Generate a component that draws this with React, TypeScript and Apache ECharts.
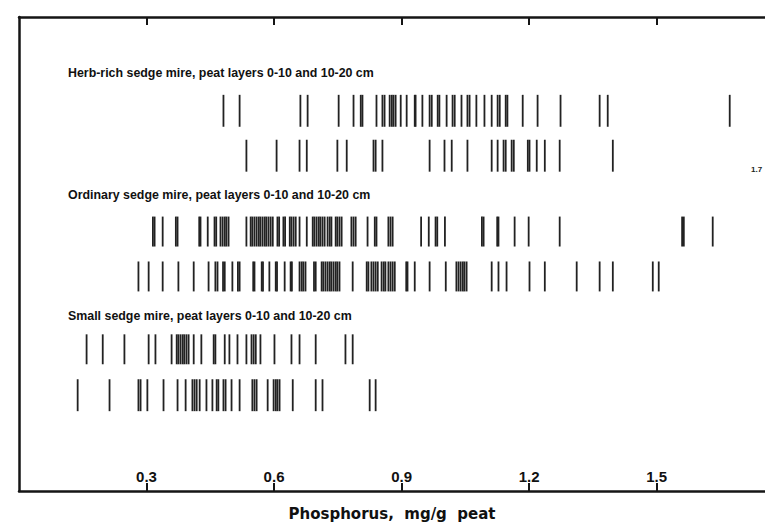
import React, { useEffect, useRef } from "react";
import * as echarts from "echarts";

// Phosphorus content (mg/g peat) of individual samples
const herbRich0_10 = [0.481, 0.519, 0.662, 0.679, 0.752, 0.787, 0.804, 0.808, 0.841, 0.855, 0.860, 0.872, 0.877, 0.881, 0.886, 0.898, 0.912, 0.931, 0.933, 0.949, 0.966, 0.971, 0.985, 0.989, 1.006, 1.020, 1.025, 1.041, 1.055, 1.060, 1.076, 1.095, 1.112, 1.126, 1.131, 1.145, 1.149, 1.185, 1.220, 1.274, 1.366, 1.385, 1.672];
const herbRich10_20 = [0.535, 0.606, 0.660, 0.677, 0.749, 0.771, 0.834, 0.839, 0.855, 0.966, 1.001, 1.018, 1.055, 1.112, 1.126, 1.140, 1.145, 1.159, 1.164, 1.197, 1.201, 1.218, 1.237, 1.272, 1.397];
const ordinary0_10 = [0.315, 0.319, 0.338, 0.369, 0.373, 0.424, 0.427, 0.444, 0.460, 0.464, 0.474, 0.479, 0.484, 0.488, 0.493, 0.535, 0.545, 0.549, 0.554, 0.559, 0.564, 0.568, 0.573, 0.578, 0.582, 0.587, 0.592, 0.597, 0.608, 0.612, 0.622, 0.626, 0.637, 0.641, 0.646, 0.651, 0.660, 0.677, 0.691, 0.695, 0.700, 0.705, 0.709, 0.714, 0.719, 0.726, 0.731, 0.735, 0.745, 0.749, 0.754, 0.759, 0.782, 0.787, 0.792, 0.820, 0.837, 0.841, 0.869, 0.874, 0.879, 0.946, 0.964, 0.980, 0.984, 1.002, 1.089, 1.093, 1.125, 1.128, 1.166, 1.199, 1.272, 1.560, 1.564, 1.632];
const ordinary10_20 = [0.281, 0.305, 0.338, 0.375, 0.411, 0.446, 0.462, 0.467, 0.480, 0.484, 0.502, 0.515, 0.519, 0.551, 0.554, 0.571, 0.574, 0.589, 0.604, 0.607, 0.625, 0.639, 0.642, 0.660, 0.665, 0.669, 0.674, 0.694, 0.698, 0.712, 0.716, 0.721, 0.726, 0.731, 0.735, 0.740, 0.745, 0.749, 0.754, 0.785, 0.818, 0.822, 0.829, 0.834, 0.839, 0.844, 0.853, 0.858, 0.862, 0.869, 0.874, 0.879, 0.884, 0.911, 0.914, 0.931, 0.966, 1.004, 1.029, 1.034, 1.039, 1.044, 1.048, 1.053, 1.112, 1.128, 1.147, 1.201, 1.237, 1.312, 1.366, 1.397, 1.491, 1.505];
const small0_10 = [0.159, 0.197, 0.248, 0.305, 0.321, 0.359, 0.371, 0.375, 0.380, 0.385, 0.389, 0.394, 0.399, 0.411, 0.429, 0.458, 0.462, 0.484, 0.495, 0.514, 0.535, 0.547, 0.552, 0.557, 0.568, 0.601, 0.641, 0.660, 0.698, 0.768, 0.785];
const small10_20 = [0.138, 0.213, 0.281, 0.286, 0.302, 0.340, 0.373, 0.392, 0.408, 0.413, 0.418, 0.425, 0.441, 0.455, 0.465, 0.469, 0.481, 0.486, 0.500, 0.519, 0.549, 0.554, 0.559, 0.585, 0.599, 0.604, 0.608, 0.613, 0.644, 0.698, 0.714, 0.825, 0.839];

const rows = [herbRich0_10, herbRich10_20, ordinary0_10, ordinary10_20, small0_10, small10_20];
const groupTitles = [
  "Herb-rich sedge mire, peat layers 0-10 and 10-20 cm",
  "Ordinary sedge mire, peat layers 0-10 and 10-20 cm",
  "Small sedge mire, peat layers 0-10 and 10-20 cm",
];
const tickLabels = ["0.3", "0.6", "0.9", "1.2", "1.5"];
const axisTitle = "Phosphorus,  mg/g  peat";

// layout (vertical bands in y-axis units, 1 unit = 1 px from grid top)
const rowBands = [
  [78, 110],
  [123, 155],
  [200, 230],
  [245, 275],
  [318, 348],
  [363, 395],
];
const titleTops = [67, 189, 310];

export default function App() {
  const ref = useRef<HTMLDivElement>(null);
  useEffect(() => {
    document.body.style.margin = "0";
    const chart = echarts.init(ref.current!, null, { renderer: "svg" });
    const data: number[][] = [];
    rows.forEach((vals, r) => vals.forEach((v) => data.push([v, r])));
    const tickValues = tickLabels.map(Number);
    const labelFont = "'Liberation Sans Narrow', 'Liberation Sans', Arial, sans-serif";
    const xMax = 1.755;
    const frame = "#151515";
    chart.setOption({
      animation: false,
      backgroundColor: "#ffffff",
      grid: { left: 19, right: 0, top: 17, bottom: 34 },
      xAxis: [
        {
          type: "value",
          position: "bottom",
          min: 0,
          max: xMax,
          interval: 0.3,
          axisLine: { show: true, onZero: false, lineStyle: { color: frame, width: 2.5 } },
          axisTick: { show: true, inside: true, length: 8, customValues: tickValues, lineStyle: { color: frame, width: 2 } },
          axisLabel: {
            inside: true,
            margin: 7,
            color: "#111",
            fontSize: 15,
            fontWeight: "bold",
            fontFamily: labelFont,
            customValues: tickValues,
            formatter: (v: number) => {
              const s = v.toFixed(1);
              return tickLabels.includes(s) ? s : "";
            },
          },
          splitLine: { show: false },
          name: axisTitle,
          nameLocation: "middle",
          nameGap: 15,
          nameTextStyle: {
            color: "#111",
            fontSize: 15,
            fontWeight: "bold",
            fontFamily: "'DejaVu Sans', Arial, sans-serif",
          },
        },
        {
          type: "value",
          position: "top",
          min: 0,
          max: xMax,
          interval: 0.3,
          axisLine: { show: true, onZero: false, lineStyle: { color: frame, width: 2.5 } },
          axisTick: { show: true, inside: true, length: 8, customValues: tickValues, lineStyle: { color: frame, width: 2 } },
          axisLabel: { show: false },
          splitLine: { show: false },
        },
      ],
      yAxis: {
        type: "value",
        inverse: true,
        min: 0,
        max: 475,
        axisLine: { show: true, onZero: false, lineStyle: { color: frame, width: 2.5 } },
        axisTick: { show: false },
        axisLabel: { show: false },
        splitLine: { show: false },
      },
      graphic: [
        ...groupTitles.map((t, i) => ({
          type: "text",
          left: 68,
          top: titleTops[i],
          style: {
            text: t,
            fill: "#111",
            font: "bold 12.4px 'Liberation Sans', Arial, sans-serif",
          },
        })),
        {
          type: "text",
          left: 751,
          top: 165,
          style: { text: "1.7", fill: "#222", font: "bold 8px 'Liberation Sans', Arial, sans-serif" },
        },
      ],
      series: [
        {
          type: "custom",
          xAxisIndex: 0,
          yAxisIndex: 0,
          data,
          renderItem: (params: any, api: any) => {
            const x = api.coord([api.value(0), 0])[0];
            const band = rowBands[api.value(1)];
            const y0 = api.coord([0, band[0]])[1];
            const y1 = api.coord([0, band[1]])[1];
            return {
              type: "rect",
              shape: { x: x - 0.9, y: y0, width: 1.8, height: y1 - y0 },
              style: { fill: "#222" },
            };
          },
        },
      ],
    });
    return () => chart.dispose();
  }, []);
  return <div ref={ref} style={{ width: 765, height: 526 }} />;
}
